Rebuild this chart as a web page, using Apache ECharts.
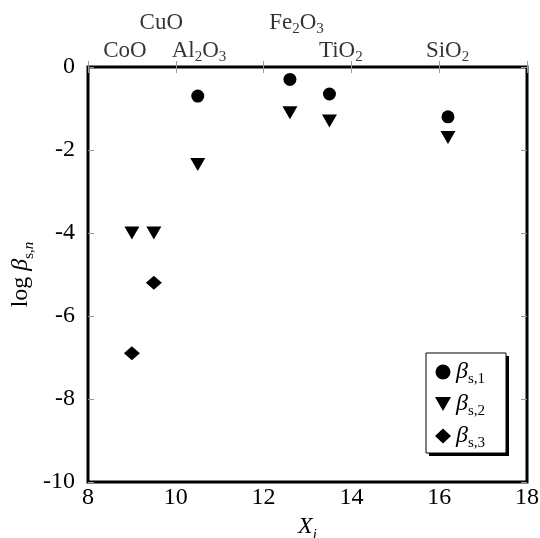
<!DOCTYPE html>
<html>
<head>
<meta charset="utf-8">
<script src="https://cdn.jsdelivr.net/npm/echarts@6/dist/echarts.min.js"></script>
<style>
  html, body { margin: 0; padding: 0; background: #fff; }
  #main { width: 540px; height: 538px; }
</style>
</head>
<body>
<div id="main"></div>
<script>
// data
var b1X = [10.5, 12.6, 13.5, 16.2];
var b1Y = [-0.7, -0.3, -0.65, -1.2];
var b2X = [9.0, 9.5, 10.5, 12.6, 13.5, 16.2];
var b2Y = [-4.0, -4.0, -2.35, -1.1, -1.3, -1.7];
var b3X = [9.0, 9.5];
var b3Y = [-6.9, -5.2];

// oxide names above the frame (x position, row height)
var oxides = ['{n|CoO}', '{n|CuO}', '{n|Al}{s|2}{n|O}{s|3}', '{n|Fe}{s|2}{n|O}{s|3}', '{n|TiO}{s|2}', '{n|SiO}{s|2}'];
var oxideX = [8.84, 9.67, 10.53, 12.75, 13.76, 16.19];
var oxideY = [0.39, 1.06, 0.39, 1.06, 0.39, 0.39];

var serif = "'Liberation Serif', 'Times New Roman', serif";
var triDown = 'path://M0,0 L10,0 L5,8.7 Z';

function zip(xs, ys) {
  return xs.map(function (x, i) { return [x, ys[i]]; });
}

var chart = echarts.init(document.getElementById('main'));

var tickStyle = { show: true, inside: true, length: 6, lineStyle: { color: '#999', width: 1 } };
var subRich = {
  n: { fontFamily: serif, fontSize: 23, color: '#000' },
  s: { fontFamily: serif, fontSize: 15, color: '#000', verticalAlign: 'bottom', padding: [0, 0, -2, 0] }
};
var markStyle = { color: '#000', opacity: 1 };

var option = {
  animation: false,
  grid: {
    left: 88, right: 13, top: 67, bottom: 56,
    outerBoundsMode: 'none', containLabel: false,
    show: true, borderColor: '#000', borderWidth: 3
  },
  // legend frame with its hard drop shadow
  graphic: [{
    type: 'rect', z: 3, silent: true,
    shape: { x: 429, y: 356, width: 80, height: 100 },
    style: { fill: '#000' }
  }, {
    type: 'rect', z: 3, silent: true,
    shape: { x: 426, y: 353, width: 80, height: 100 },
    style: { fill: '#fff', stroke: '#000', lineWidth: 1 }
  }],
  xAxis: [{
    type: 'value', min: 8, max: 18, interval: 2,
    axisLine: { show: false },
    axisTick: tickStyle,
    splitLine: { show: false },
    axisLabel: { fontFamily: serif, fontSize: 24, color: '#000', margin: 4 },
    name: '{i|X}{s|i}',
    nameLocation: 'middle', nameGap: 33,
    nameTextStyle: {
      rich: {
        i: { fontFamily: serif, fontSize: 24, fontStyle: 'italic', color: '#000' },
        s: { fontFamily: serif, fontSize: 15, fontStyle: 'italic', color: '#000', verticalAlign: 'bottom', padding: [0, 0, -4, 0] }
      }
    }
  }, {
    type: 'value', min: 8, max: 18, interval: 2, position: 'top',
    axisLine: { show: false }, axisTick: tickStyle,
    axisLabel: { show: false }, splitLine: { show: false }
  }],
  yAxis: [{
    type: 'value', min: -10, max: 0, interval: 2,
    axisLine: { show: false },
    axisTick: tickStyle,
    splitLine: { show: false },
    axisLabel: { fontFamily: serif, fontSize: 24, color: '#000', margin: 13 },
    name: '{n|log }{b|β}{s|s,}{i|n}',
    nameLocation: 'middle', nameRotate: 90, nameGap: 55,
    nameMoveOverlap: false,
    nameTextStyle: {
      rich: {
        n: { fontFamily: serif, fontSize: 24, color: '#000' },
        b: { fontFamily: serif, fontSize: 24, fontStyle: 'italic', color: '#000' },
        s: { fontFamily: serif, fontSize: 15, color: '#000', verticalAlign: 'bottom', padding: [0, 0, -4, 0] },
        i: { fontFamily: serif, fontSize: 15, fontStyle: 'italic', color: '#000', verticalAlign: 'bottom', padding: [0, 0, -4, 0] }
      }
    }
  }, {
    type: 'value', min: -10, max: 0, interval: 2, position: 'right',
    axisLine: { show: false }, axisTick: tickStyle,
    axisLabel: { show: false }, splitLine: { show: false }
  }],
  legend: {
    orient: 'vertical',
    left: 426, top: 356,
    padding: [4, 10, 4, 9],
    itemWidth: 16, itemHeight: 15, itemGap: 5,
    data: ['b1', 'b2', 'b3'],
    formatter: function (name) {
      return '{b|β}{s|s,' + name.slice(1) + '}';
    },
    textStyle: {
      rich: {
        b: { fontFamily: serif, fontSize: 24, fontStyle: 'italic', color: '#000', lineHeight: 22 },
        s: { fontFamily: serif, fontSize: 15, color: '#000', verticalAlign: 'bottom', padding: [0, 0, -4, 0], lineHeight: 22 }
      }
    }
  },
  series: [{
    name: 'b1', type: 'scatter', data: zip(b1X, b1Y),
    symbol: 'circle', symbolSize: 13,
    itemStyle: markStyle
  }, {
    name: 'b2', type: 'scatter', data: zip(b2X, b2Y),
    symbol: triDown, symbolSize: [15, 13],
    itemStyle: markStyle
  }, {
    name: 'b3', type: 'scatter', data: zip(b3X, b3Y),
    symbol: 'diamond', symbolSize: [16, 14],
    itemStyle: markStyle
  }, {
    name: 'oxides', type: 'scatter', clip: false, silent: true,
    symbolSize: 0,
    data: oxideX.map(function (x, i) { return { value: [x, oxideY[i]], label: { formatter: oxides[i] } }; }),
    label: { show: true, position: 'inside', rich: subRich }
  }]
};

chart.setOption(option);
</script>
</body>
</html>
